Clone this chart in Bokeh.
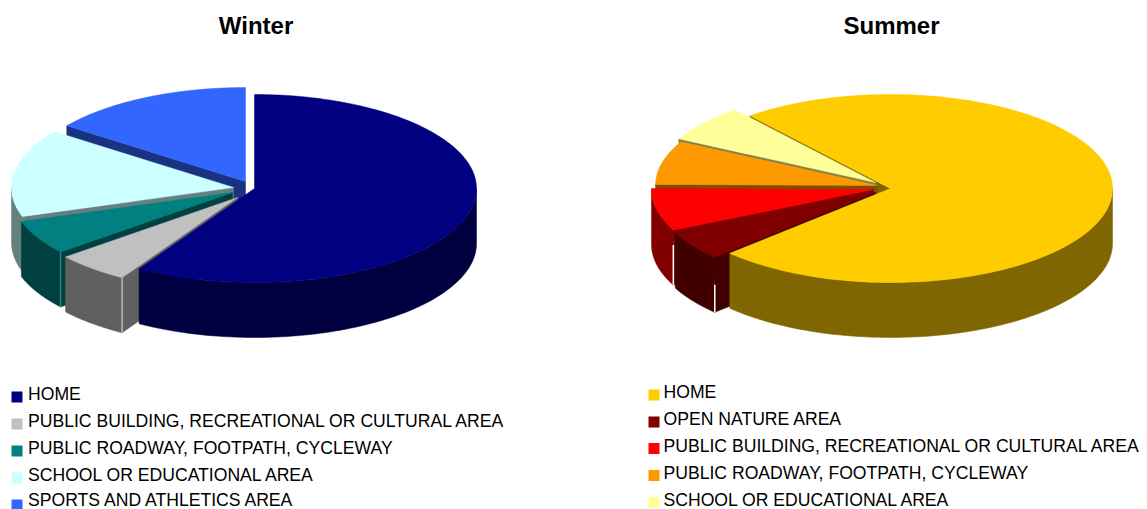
import numpy as np
from bokeh.embed import file_html
from bokeh.models import ColumnDataSource, Range1d
from bokeh.plotting import figure
from bokeh.resources import INLINE
from bokeh.core.properties import value

# Usage shares, in percent, clockwise from each pie's first slice angle
winter_labels = ["HOME", "PUBLIC BUILDING, RECREATIONAL OR CULTURAL AREA",
                 "PUBLIC ROADWAY, FOOTPATH, CYCLEWAY", "SCHOOL OR EDUCATIONAL AREA",
                 "SPORTS AND ATHLETICS AREA"]
winter_share = [58.7, 5.4, 5.9, 15.1, 14.9]
winter_top = ["#000080", "#C0C0C0", "#008080", "#CCFFFF", "#3366FF"]
winter_side = ["#000040", "#606060", "#004040", "#668080", "#1A3380"]

summer_labels = ["HOME", "OPEN NATURE AREA",
                 "PUBLIC BUILDING, RECREATIONAL OR CULTURAL AREA",
                 "PUBLIC ROADWAY, FOOTPATH, CYCLEWAY", "SCHOOL OR EDUCATIONAL AREA"]
summer_share = [73.8, 5.0, 7.3, 7.5, 6.4]
summer_top = ["#FFCC00", "#800000", "#FF0000", "#FF9900", "#FFFF99"]
summer_side = ["#806600", "#400000", "#800000", "#804D00", "#80804D"]

RX, RY, DEPTH = 222, 94, 55


def plan(theta, apex, z=0.0):
    """Project clockwise-from-top angles (degrees) onto the tilted pie plane."""
    t = np.radians(theta)
    return apex[0] + RX * np.sin(t), apex[1] - RY * np.cos(t) + z


def slice_layers(start, end, apex, top, side):
    """Return (radial faces, outer wall, top face) polygons for one exploded slice."""
    radial, wall = [], []
    if 90 < (start - 90) % 360 < 270:
        ox, oy = plan(start, apex)
        radial.append(([apex[0], ox, ox, apex[0]],
                       [apex[1], oy, oy + DEPTH, apex[1] + DEPTH], side))
    # the outer wall is seen only on the near half of the rim
    spans = [(max(start, 90), min(end, 270)), (max(start - 360, 90), min(end - 360, 270)),
             (max(start + 360, 90), min(end + 360, 270))]
    for a, b in spans:
        if b > a:
            th = np.linspace(a, b, 80)
            x, y = plan(th, apex)
            wall.append((list(x) + list(x[::-1]),
                         list(y) + list((y + DEPTH)[::-1]), side))
    th = np.linspace(start, end, 200)
    x, y = plan(th, apex)
    face = ([apex[0]] + list(x), [apex[1]] + list(y), top)
    return radial, wall, face


def pie(shares, first_angle, apexes, tops, sides, order, seams):
    angles = first_angle + np.concatenate([[0], np.cumsum(shares)]) * 3.6
    polys, seam_lines = [], []
    layers = [slice_layers(angles[i], angles[i + 1], apexes[i], tops[i], sides[i])
              for i in range(len(shares))]
    # the biggest slice's cut face sits behind its neighbours' top faces
    polys += layers[0][0]
    for i in order:
        radial, wall, face = layers[i]
        if i != 0:
            polys += radial
        polys += wall
        polys.append(face)
    for i, colour, frac in seams:
        x, y = plan(angles[i], apexes[i])
        seam_lines.append(([x, x], [y + frac * DEPTH, y + DEPTH], colour))
    return polys, seam_lines


winter_polys, winter_seams = pie(
    winter_share, 0.0,
    [(254, 188), (237, 197), (232, 192), (233, 187), (245, 181)],
    winter_top, winter_side, [4, 3, 2, 1, 0],
    [(1, "#B8B8B8", 0.0), (2, "#2E8080", 0.0)])
summer_polys, summer_seams = pie(
    summer_share, 320.7,
    [(890, 188), (875, 192), (873, 189), (877, 185), (875, 182)],
    summer_top, summer_side, [4, 3, 2, 1, 0],
    [(1, "#FFFFFF", 0.5), (2, "#FFFFFF", 0.27)])

polys = winter_polys + summer_polys
seams = winter_seams + summer_seams

p = figure(width=1147, height=509, output_backend="svg", toolbar_location=None,
           x_range=Range1d(0, 1147), y_range=Range1d(509, 0), min_border=0,
           background_fill_color="white", border_fill_color="white")
p.axis.visible = False
p.grid.visible = False
p.outline_line_color = None

p.patches("xs", "ys", fill_color="c", line_color="c", line_width=0.5,
          source=ColumnDataSource(dict(xs=[q[0] for q in polys], ys=[q[1] for q in polys],
                                       c=[q[2] for q in polys])))
p.multi_line("xs", "ys", line_color="c", line_width=1.5,
             source=ColumnDataSource(dict(xs=[s[0] for s in seams], ys=[s[1] for s in seams],
                                          c=[s[2] for s in seams])))

# Titles
p.text([255.5, 891], [25, 25], text=["Winter", "Summer"], text_align="center",
       text_baseline="middle", text_font=value("Liberation Sans"),
       text_font_style="bold", text_font_size="24px", text_color="black")

# Legends
def legend(labels, colours, box_x, text_x, rows):
    p.rect([box_x + 5.5] * len(rows), rows, width=11, height=11,
           fill_color=colours, line_color=None)
    p.text([text_x] * len(rows), [min(r - 3, 499.5) for r in rows], text=labels,
           text_baseline="middle", text_font=value("Liberation Sans"),
           text_font_size="17.6px", text_color="#000000")


legend(winter_labels, winter_top, 11, 27.5, [396.5, 423.5, 450.5, 477.5, 504.5])
legend(summer_labels, summer_top, 648, 663, [394.5, 421.5, 448, 475, 502])

open("out.html", "w").write(file_html(p, INLINE))
